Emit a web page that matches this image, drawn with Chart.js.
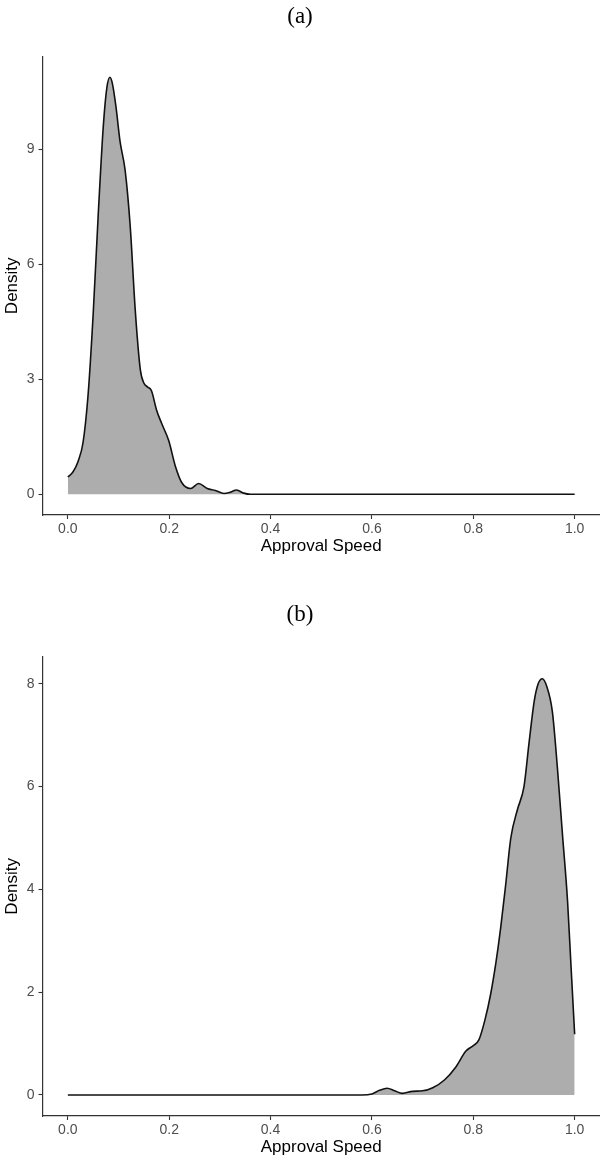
<!DOCTYPE html>
<html>
<head>
<meta charset="utf-8">
<script src="https://cdn.jsdelivr.net/npm/chart.js@4"></script>
<style>
  html, body { margin: 0; padding: 0; background: #fff; }
  .panel { position: relative; width: 600px; }
  #panelA { height: 600px; }
  #panelB { height: 560px; }
</style>
</head>
<body>
<div class="panel" id="panelA"><canvas id="chartA"></canvas></div>
<div class="panel" id="panelB"><canvas id="chartB"></canvas></div>
<script>
// (a) density of approval speed
const speedA = [0.000, 0.010, 0.020, 0.030, 0.040, 0.050, 0.060, 0.070, 0.077, 0.083,
                0.088, 0.095, 0.103, 0.113, 0.123, 0.133, 0.143, 0.150, 0.157, 0.165,
                0.175, 0.185, 0.199, 0.212, 0.225, 0.242, 0.258, 0.275, 0.291, 0.308,
                0.320, 0.333, 0.347, 0.360, 0.400, 0.600, 0.800, 1.000];
const densityA = [0.45, 0.58, 0.85, 1.35, 2.6, 4.7, 7.3, 9.6, 10.6, 10.87,
                  10.7, 10.1, 9.2, 8.45, 7.0, 4.8, 3.25, 2.9, 2.8, 2.7,
                  2.2, 1.85, 1.4, 0.74, 0.30, 0.15, 0.28, 0.15, 0.10, 0.02,
                  0.05, 0.11, 0.03, 0.0, 0, 0, 0, 0];

// (b)
const speedB = [0.000, 0.200, 0.400, 0.580, 0.600, 0.615, 0.630, 0.645, 0.660, 0.680,
                0.700, 0.720, 0.743, 0.766, 0.785, 0.800, 0.811, 0.823, 0.834, 0.845,
                0.854, 0.864, 0.874, 0.887, 0.900, 0.910, 0.920, 0.928, 0.936, 0.945,
                0.956, 0.966, 0.976, 0.986, 0.993, 1.000];
const densityB = [0, 0, 0, 0.0, 0.02, 0.09, 0.13, 0.08, 0.03, 0.07,
                  0.08, 0.14, 0.29, 0.55, 0.85, 0.96, 1.07, 1.46, 1.95, 2.6,
                  3.25, 4.1, 5.0, 5.55, 6.0, 6.85, 7.65, 8.0, 8.1, 7.95,
                  7.46, 6.36, 5.06, 3.77, 2.47, 1.18];

const xTicks = [0, 0.2, 0.4, 0.6, 0.8, 1.0];
const yTicksA = [0, 3, 6, 9];
const yTicksB = [0, 2, 4, 6, 8];

const sans = 'Liberation Sans, Arial, sans-serif';
const axisColor = '#333333';

// box: title padding + x axis box height / title padding, so both panels line up like the figure
function makeChart(id, title, xs, ys, yTicks, yMin, yMax, box) {
  const points = xs.map((x, i) => ({ x: x, y: ys[i] }));
  return new Chart(document.getElementById(id), {
    type: 'line',
    data: {
      datasets: [{
        data: points,
        borderColor: '#111111',
        borderWidth: 1.6,
        backgroundColor: '#adadad',
        fill: 'origin',
        pointRadius: 0,
        cubicInterpolationMode: 'monotone'
      }]
    },
    options: {
      responsive: true,
      maintainAspectRatio: false,
      animation: false,
      layout: { padding: 0 },
      plugins: {
        legend: { display: false },
        tooltip: { enabled: false },
        title: {
          display: true,
          text: title,
          color: '#000',
          font: { family: 'Liberation Serif, DejaVu Serif, serif', size: 23, weight: 'normal' },
          padding: { top: box.titleTop, bottom: box.titleBottom }
        }
      },
      scales: {
        x: {
          type: 'linear',
          min: -0.05,
          max: 1.05,
          afterBuildTicks: s => { s.ticks = xTicks.map(v => ({ value: v })); },
          afterFit: s => { s.height = box.xHeight; },
          ticks: {
            color: '#4d4d4d',
            font: { family: sans, size: 14 },
            padding: 2,
            maxRotation: 0,
            callback: v => Number(v).toFixed(1)
          },
          grid: {
            display: true,
            drawOnChartArea: false,
            drawTicks: true,
            tickLength: 4,
            tickColor: axisColor,
            tickWidth: 1.1
          },
          border: { display: true, color: axisColor, width: 1.2 },
          title: {
            display: true,
            text: 'Approval Speed',
            color: '#000',
            font: { family: sans, size: 17 },
            padding: { top: 0, bottom: box.xTitleBottom }
          }
        },
        y: {
          min: yMin,
          max: yMax,
          afterBuildTicks: s => { s.ticks = yTicks.map(v => ({ value: v })); },
          afterFit: s => { s.width = 42.5; },
          ticks: {
            color: '#4d4d4d',
            font: { family: sans, size: 14 },
            padding: 4,
            callback: v => String(v)
          },
          grid: {
            display: true,
            drawOnChartArea: false,
            drawTicks: true,
            tickLength: 4,
            tickColor: axisColor,
            tickWidth: 1.1
          },
          border: { display: true, color: axisColor, width: 1.2 },
          title: {
            display: true,
            text: 'Density',
            color: '#000',
            font: { family: sans, size: 17 },
            padding: { top: 2, bottom: 0 }
          }
        }
      }
    }
  });
}

makeChart('chartA', '(a)', speedA, densityA, yTicksA, -0.54, 11.41,
  { titleTop: 3, titleBottom: 26, xHeight: 85, xTitleBottom: 43 });
makeChart('chartB', '(b)', speedB, densityB, yTicksB, -0.41, 8.53,
  { titleTop: 1, titleBottom: 28, xHeight: 44, xTitleBottom: 2 });
</script>
</body>
</html>
